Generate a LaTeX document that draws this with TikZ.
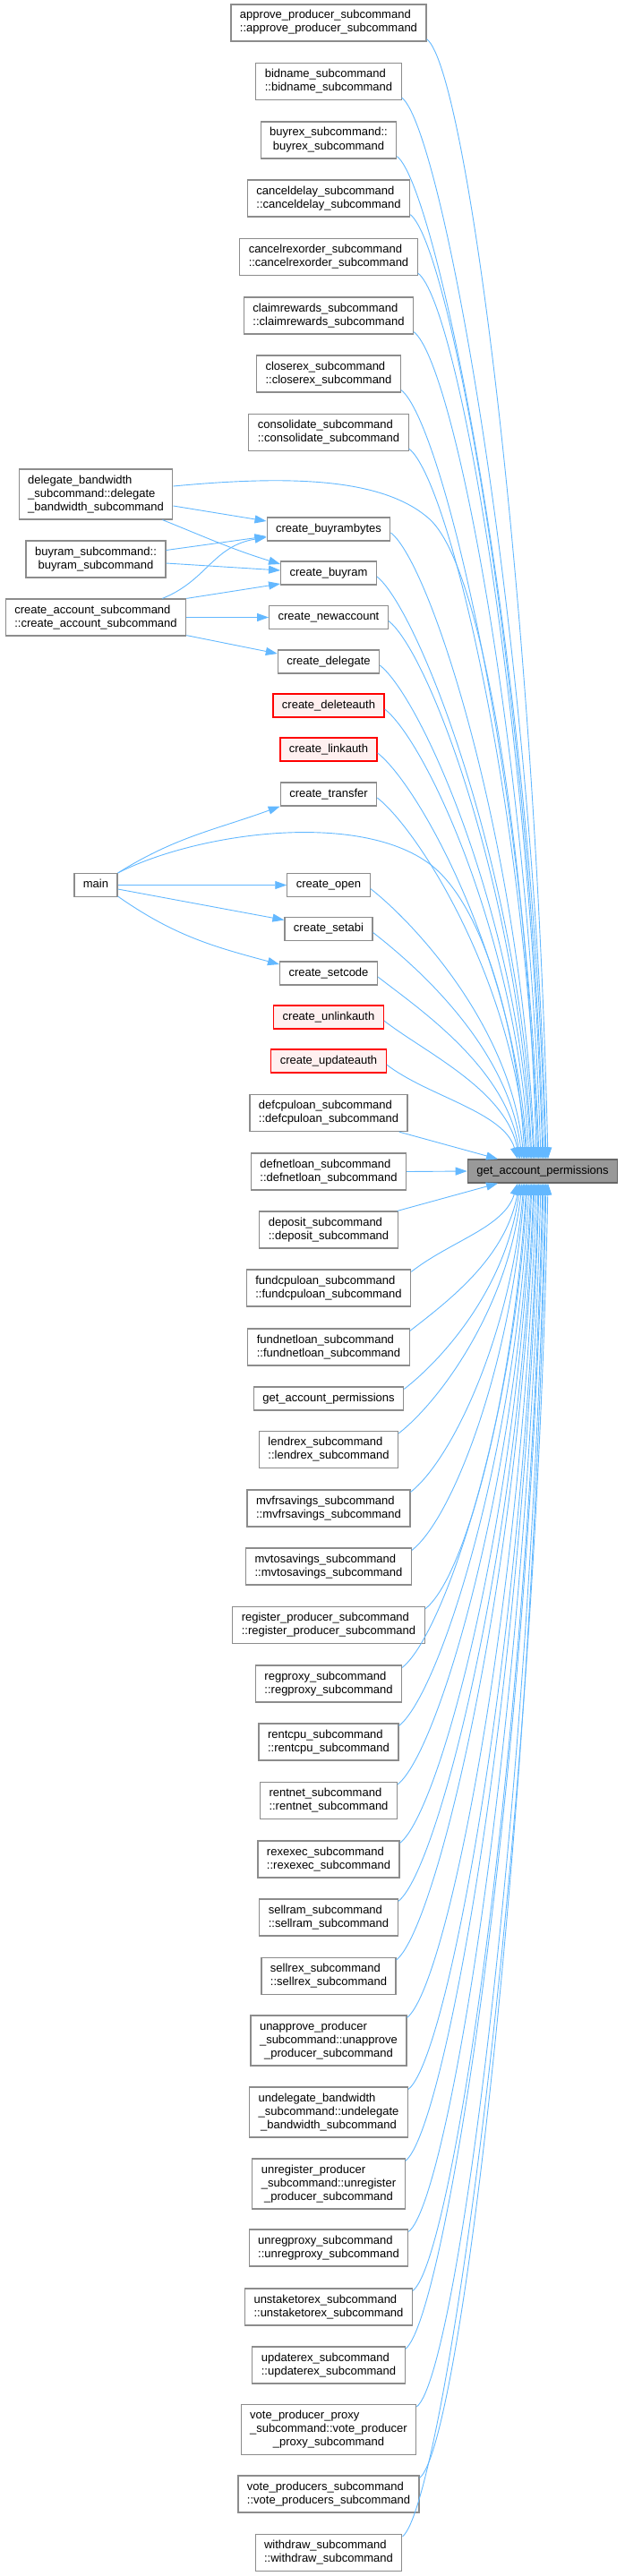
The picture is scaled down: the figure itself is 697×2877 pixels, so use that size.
\documentclass[tikz,border=0pt]{standalone}
\usepackage{fontspec}
\setmainfont{Liberation Sans}
\usepackage{tikz}
\usetikzlibrary{calc,arrows.meta}
\definecolor{edgeblue}{HTML}{63B8FF}
\definecolor{boxgray}{HTML}{8C8C8C}
\definecolor{focusfill}{HTML}{999999}
\definecolor{focusline}{HTML}{666666}
\definecolor{undocfill}{HTML}{FFF0F0}

% doxygen style labels: upper lines flush left, last line centred
\newcommand{\twoline}[2]{\begin{tabular}{@{}l@{}}#1\\\multicolumn{1}{@{}c@{}}{#2}\end{tabular}}
\newcommand{\threeline}[3]{\begin{tabular}{@{}l@{}}#1\\#2\\\multicolumn{1}{@{}c@{}}{#3}\end{tabular}}

\begin{document}
\begin{tikzpicture}[x=1pt, y=-1pt,
  func/.style={draw=boxgray, line width=1.2pt, fill=white, inner xsep=10pt, inner ysep=5.5pt,
    font=\fontsize{13}{15}\selectfont},
  undoc/.style={func, draw=red, fill=undocfill},
  focus/.style={func, draw=focusline, fill=focusfill},
  call/.style={draw=edgeblue, line width=0.9pt, -{Triangle[length=13pt,width=9pt]}}]
  \useasboundingbox (0,0) rectangle (697,2877);

  % callers above
  \node[func] (approve) at (367,25.5) {\twoline{approve\_producer\_subcommand}{::approve\_producer\_subcommand}};
  \node[func] (bidname) at (367,91) {\twoline{bidname\_subcommand}{::bidname\_subcommand}};
  \node[func] (buyrex) at (367,156.5) {\twoline{buyrex\_subcommand::}{buyrex\_subcommand}};
  \node[func] (canceldelay) at (367,221.5) {\twoline{canceldelay\_subcommand}{::canceldelay\_subcommand}};
  \node[func] (cancelrexorder) at (367,287) {\twoline{cancelrexorder\_subcommand}{::cancelrexorder\_subcommand}};
  \node[func] (claimrewards) at (367,352.5) {\twoline{claimrewards\_subcommand}{::claimrewards\_subcommand}};
  \node[func] (closerex) at (367,417.5) {\twoline{closerex\_subcommand}{::closerex\_subcommand}};
  \node[func] (consolidate) at (367,483) {\twoline{consolidate\_subcommand}{::consolidate\_subcommand}};
  \node[func] (dbw) at (107,552) {\threeline{delegate\_bandwidth}{\_subcommand::delegate}{\_bandwidth\_subcommand}};
  \node[func] (buyrambytes) at (367,591) {\strut create\_buyrambytes};
  \node[func] (buyram) at (107,624.5) {\twoline{buyram\_subcommand::}{buyram\_subcommand}};
  \node[func] (cbuyram) at (367,640) {\strut create\_buyram};
  \node[func] (cacct) at (107,689.5) {\twoline{create\_account\_subcommand}{::create\_account\_subcommand}};
  \node[func] (newacct) at (367,689.5) {\strut create\_newaccount};
  \node[func] (cdelegate) at (367,739) {\strut create\_delegate};
  \node[undoc] (deleteauth) at (367,788) {\strut create\_deleteauth};
  \node[undoc] (linkauth) at (367,837) {\strut create\_linkauth};
  \node[func] (transfer) at (367,887) {\strut create\_transfer};
  \node[func] (main) at (107,988.5) {\strut main};
  \node[func] (open) at (367,988.5) {\strut create\_open};
  \node[func] (setabi) at (367,1037.5) {\strut create\_setabi};
  \node[func] (setcode) at (367,1087) {\strut create\_setcode};
  \node[undoc] (unlinkauth) at (367,1136) {\strut create\_unlinkauth};
  \node[undoc] (updateauth) at (367,1185) {\strut create\_updateauth};
  \node[func] (defcpu) at (367,1243) {\twoline{defcpuloan\_subcommand}{::defcpuloan\_subcommand}};
  \node[func] (defnet) at (367,1308.5) {\twoline{defnetloan\_subcommand}{::defnetloan\_subcommand}};

  % the function itself
  \node[focus] (gap) at (606,1308) {\strut get\_account\_permissions};

  % callers below
  \node[func] (deposit) at (367,1373.5) {\twoline{deposit\_subcommand}{::deposit\_subcommand}};
  \node[func] (fundcpu) at (367,1438.5) {\twoline{fundcpuloan\_subcommand}{::fundcpuloan\_subcommand}};
  \node[func] (fundnet) at (367,1504.5) {\twoline{fundnetloan\_subcommand}{::fundnetloan\_subcommand}};
  \node[func] (getperm) at (367,1562) {\strut get\_account\_permissions};
  \node[func] (lendrex) at (367,1619) {\twoline{lendrex\_subcommand}{::lendrex\_subcommand}};
  \node[func] (mvfr) at (367,1684.5) {\twoline{mvfrsavings\_subcommand}{::mvfrsavings\_subcommand}};
  \node[func] (mvto) at (367,1749.5) {\twoline{mvtosavings\_subcommand}{::mvtosavings\_subcommand}};
  \node[func] (regprod) at (367,1815) {\twoline{register\_producer\_subcommand}{::register\_producer\_subcommand}};
  \node[func] (regproxy) at (367,1880.5) {\twoline{regproxy\_subcommand}{::regproxy\_subcommand}};
  \node[func] (rentcpu) at (367,1945.5) {\twoline{rentcpu\_subcommand}{::rentcpu\_subcommand}};
  \node[func] (rentnet) at (367,2011) {\twoline{rentnet\_subcommand}{::rentnet\_subcommand}};
  \node[func] (rexexec) at (367,2076.5) {\twoline{rexexec\_subcommand}{::rexexec\_subcommand}};
  \node[func] (sellram) at (367,2141.5) {\twoline{sellram\_subcommand}{::sellram\_subcommand}};
  \node[func] (sellrex) at (367,2207) {\twoline{sellrex\_subcommand}{::sellrex\_subcommand}};
  \node[func] (unapprove) at (367,2279) {\threeline{unapprove\_producer}{\_subcommand::unapprove}{\_producer\_subcommand}};
  \node[func] (undelegate) at (367,2359) {\threeline{undelegate\_bandwidth}{\_subcommand::undelegate}{\_bandwidth\_subcommand}};
  \node[func] (unregister) at (367,2439) {\threeline{unregister\_producer}{\_subcommand::unregister}{\_producer\_subcommand}};
  \node[func] (unregproxy) at (367,2510.5) {\twoline{unregproxy\_subcommand}{::unregproxy\_subcommand}};
  \node[func] (unstake) at (367,2576.5) {\twoline{unstaketorex\_subcommand}{::unstaketorex\_subcommand}};
  \node[func] (updaterex) at (367,2641.5) {\twoline{updaterex\_subcommand}{::updaterex\_subcommand}};
  \node[func] (vpp) at (367,2713.5) {\threeline{vote\_producer\_proxy}{\_subcommand::vote\_producer}{\_proxy\_subcommand}};
  \node[func] (vprods) at (367,2785.5) {\twoline{vote\_producers\_subcommand}{::vote\_producers\_subcommand}};
  \node[func] (withdraw) at (367,2851) {\twoline{withdraw\_subcommand}{::withdraw\_subcommand}};

  % left column into the create_ helpers
  \draw[call] ([yshift=-13pt]dbw.east) -- ([yshift=9pt]buyrambytes.west);
  \draw[call] ([xshift=-12pt]dbw.south east) to[out=-22,in=163] ([yshift=10pt]cbuyram.west);
  \draw[call] ([yshift=10pt]buyram.east) -- ([yshift=-8pt]buyrambytes.west);
  \draw[call] ([yshift=-4.5pt]buyram.east) -- ([yshift=3pt]cbuyram.west);
  \draw[call] ([xshift=-27pt]cacct.north east) .. controls +(50,-20) and +(-60,10) .. ([yshift=-9pt]buyrambytes.west);
  \draw[call] (cacct.north east) -- ([yshift=-12pt]cbuyram.west);
  \draw[call] (cacct.east) -- (newacct.west);
  \draw[call] ([yshift=1pt]cacct.south east) -- ([yshift=9pt]cdelegate.west);
  \draw[call] (main.north east) to[out=32,in=-160] (transfer.south west);
  \draw[call] (main.east) -- (open.west);
  \draw[call] ([yshift=-4.5pt]main.east) -- ([yshift=10pt]setabi.west);
  \draw[call] ([yshift=1pt]main.south east) to[out=-35,in=165] ([yshift=10pt]setcode.west);

  % everything into get_account_permissions
  \foreach \src/\dx in {approve/6, bidname/4, buyrex/3, canceldelay/1, cancelrexorder/0,
      claimrewards/-2, closerex/-4, consolidate/-5}
    \draw[call] let \p1=([yshift=3pt]\src.south east), \p2=([xshift=\dx pt]gap.north) in
      (\p1) .. controls ({\x1+45pt},{\y1-35pt}) and ({\x2-15pt},{(\y1+\y2)/2}) .. (\p2);
  \foreach \src/\dx in {buyrambytes/-9, cbuyram/-10, newacct/-12, cdelegate/-13, deleteauth/-15,
      linkauth/-17, transfer/-18, open/-21, setabi/-23, setcode/-25, unlinkauth/-26, updateauth/-28}
    \draw[call] let \p1=([yshift=-4pt]\src.east), \p2=([xshift=\dx pt]gap.north) in
      (\p1) .. controls ({\x1+45pt},{\y1-35pt}) and ({\x2-15pt},{(\y1+\y2)/2}) .. (\p2);
  \foreach \src/\dx in {fundcpu/-28, fundnet/-26, getperm/-25, lendrex/-23, mvfr/-21, mvto/-20,
      regprod/-18, regproxy/-17, rentcpu/-15, rentnet/-13, rexexec/-12, sellram/-10, sellrex/-9,
      unapprove/-7, undelegate/-5, unregister/-4, unregproxy/-2, unstake/0, updaterex/1,
      vpp/3, vprods/4, withdraw/6}
    \draw[call] let \p1=([yshift=-3pt]\src.north east), \p2=([xshift=\dx pt]gap.south) in
      (\p1) .. controls ({\x1+45pt},{\y1+35pt}) and ({\x2-15pt},{(\y1+\y2)/2}) .. (\p2);
  \draw[call] ([yshift=9pt]dbw.east) .. controls (330,530) and (430,535) .. (480,580)
    .. controls (545,640) and (592,1000) .. ([xshift=-7pt]gap.north);
  \draw[call] (main.north east) .. controls (220,930) and (400,905) .. (480,965)
    .. controls (540,1010) and (578,1150) .. ([xshift=-20pt]gap.north);
  \draw[call] ([xshift=-10pt]defcpu.south east) -- ([xshift=-50pt]gap.north);
  \draw[call] (defnet.east) -- (gap.west);
  \draw[call] ([xshift=-1pt]deposit.north east) -- ([xshift=-50pt]gap.south);
\end{tikzpicture}
\end{document}
